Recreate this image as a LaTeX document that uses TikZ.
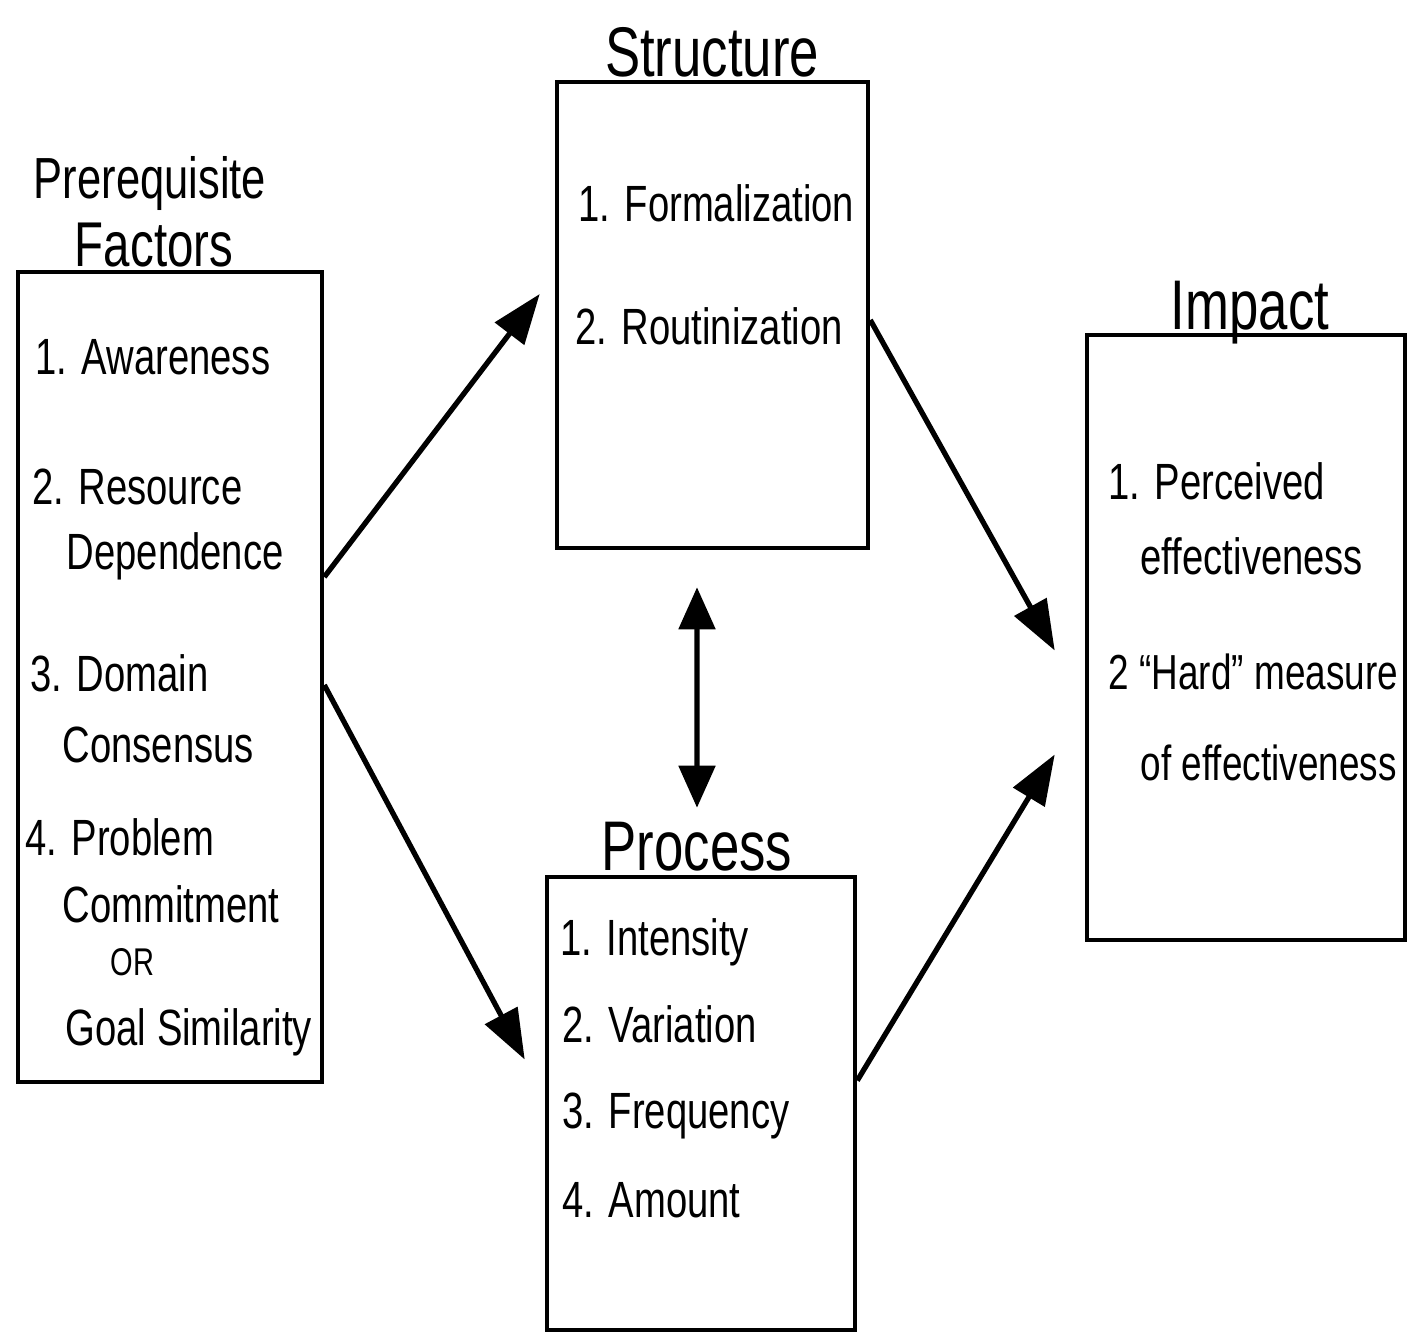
\documentclass[tikz,border=0pt]{standalone}
\usepackage{fontspec}
\setmainfont[FakeStretch=0.75]{Liberation Sans}
\usetikzlibrary{arrows.meta}

\tikzset{
	box/.style={draw, line width=1.3pt, minimum width=#1, inner sep=0pt},
	boxtitle/.style={anchor=base, inner sep=0pt, font=\fontsize{20}{22}\selectfont},
	item/.style={anchor=base west, inner sep=0pt, font=\fontsize{14.5}{16}\selectfont},
	flow/.style={line width=1.5pt, -{Triangle[length=0.5cm, width=0.36cm]}},
	twoway/.style={line width=1.5pt, {Triangle[length=0.42cm, width=0.36cm]}-{Triangle[length=0.42cm, width=0.36cm]}}
}

\begin{document}
\begin{tikzpicture}
	% Boxes, titles and arrows:
	\useasboundingbox (0, 0) rectangle (14.18, 13.39);
	\node[box=3.04cm, minimum height=8.10cm] (Pre) at (1.70, 6.62) {};
	\node[box=3.11cm, minimum height=4.66cm] (Str) at (7.125, 10.24) {};
	\node[box=3.18cm, minimum height=6.05cm] (Imp) at (12.46, 7.015) {};
	\node[box=3.08cm, minimum height=4.53cm] (Proc) at (7.01, 2.355) {};
	\node[boxtitle, font=\fontsize{16.5}{18}\selectfont] (PreT1) at (1.50, 11.40) {Prerequisite};
	\node[boxtitle, font=\fontsize{18}{20}\selectfont] (PreT2) at (1.54, 10.72) {Factors};
	\node[boxtitle] (StrT) at (7.12, 12.62) {Structure};
	\node[boxtitle] (ImpT) at (12.50, 10.09) {Impact};
	\node[boxtitle] (ProcT) at (6.97, 4.69) {Process};
	\node[item] (Pre1) at (0.35, 9.64) {1. Awareness};
	\node[item] (Pre2) at (0.32, 8.34) {2. Resource};
	\node[item] (Pre2b) at (0.66, 7.69) {Dependence};
	\node[item] (Pre3) at (0.30, 6.47) {3. Domain};
	\node[item] (Pre3b) at (0.62, 5.77) {Consensus};
	\node[item] (Pre4) at (0.25, 4.84) {4. Problem};
	\node[item] (Pre4b) at (0.62, 4.17) {Commitment};
	\node[item, font=\fontsize{11}{12}\selectfont] (Pre4c) at (1.10, 3.64) {OR};
	\node[item] (Pre4d) at (0.65, 2.94) {Goal Similarity};
	\node[item] (Str1) at (5.78, 11.17) {1. Formalization};
	\node[item] (Str2) at (5.75, 9.94) {2. Routinization};
	\node[item] (Imp1) at (11.08, 8.39) {1. Perceived};
	\node[item] (Imp1b) at (11.40, 7.64) {effectiveness};
	\node[item, font=\fontsize{14}{16}\selectfont] (Imp2) at (11.08, 6.49) {2 ``Hard'' measure};
	\node[item, font=\fontsize{14}{16}\selectfont] (Imp2b) at (11.40, 5.59) {of effectiveness};
	\node[item] (Proc1) at (5.60, 3.84) {1. Intensity};
	\node[item] (Proc2) at (5.62, 2.97) {2. Variation};
	\node[item] (Proc3) at (5.62, 2.11) {3. Frequency};
	\node[item] (Proc4) at (5.62, 1.22) {4. Amount};
	\draw[flow] ([yshift=1.00cm]Pre.east) -- ([xshift=-0.15cm, yshift=0.21cm]Str.west);
	\draw[flow] ([yshift=-0.08cm]Pre.east) -- ([xshift=-0.20cm, yshift=0.44cm]Proc.west);
	\draw[flow] ([yshift=-0.05cm]Str.east) -- ([xshift=-0.30cm, yshift=-0.13cm]Imp.west);
	\draw[flow] ([yshift=0.23cm]Proc.east) -- ([xshift=-0.30cm, yshift=-1.17cm]Imp.west);
	\draw[twoway] ([xshift=-0.155cm, yshift=-0.37cm]Str.south) -- ([xshift=-0.04cm, yshift=0.67cm]Proc.north);
\end{tikzpicture}
\end{document}
